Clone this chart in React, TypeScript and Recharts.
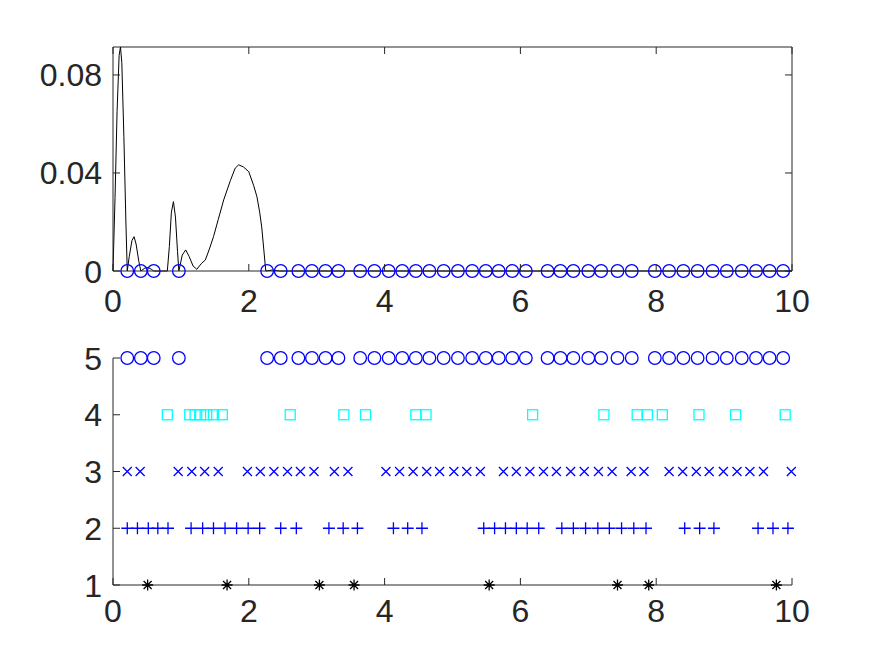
import React from 'react';
import { ComposedChart, ScatterChart, Scatter, Line, XAxis, YAxis, ReferenceLine } from 'recharts';

const xTicks = [0, 2, 4, 6, 8, 10];
const topYTicks = [0, 0.04, 0.08];
const bottomYTicks = [1, 2, 3, 4, 5];
const topYMax = 0.0914;

// black curve of the upper panel
const curveX = [
  0, 0.03, 0.06, 0.09, 0.11, 0.13, 0.16, 0.19, 0.21, 0.24, 0.28, 0.31, 0.34, 0.38, 0.41,
  0.47, 0.52, 0.57, 0.6, 0.8, 0.83, 0.86, 0.89, 0.92, 0.95, 0.97, 1.02, 1.07, 1.12, 1.18,
  1.235, 1.3, 1.36, 1.42, 1.48, 1.55, 1.63, 1.73, 1.8, 1.85, 1.92, 2.0, 2.07, 2.12, 2.16,
  2.19, 2.22, 2.25, 2.35, 2.45, 10,
];
const curveY = [
  0, 0.03, 0.065, 0.088, 0.0914, 0.085, 0.055, 0.02, 0, 0.006, 0.0125, 0.014, 0.011, 0.004, 0,
  0.0012, 0.0014, 0.0006, 0, 0, 0.01, 0.024, 0.0283, 0.022, 0.008, 0, 0.0065, 0.0086, 0.006, 0.002,
  0.0007, 0.003, 0.0045, 0.009, 0.014, 0.021, 0.029, 0.037, 0.042, 0.0433, 0.0425, 0.0405, 0.035, 0.0303, 0.024,
  0.018, 0.009, 0, 0.0004, 0, 0,
];

// event times per row
const circleTimes = [
  0.21, 0.41, 0.6, 0.97, 2.27, 2.47, 2.73, 2.93, 3.13, 3.32, 3.64, 3.85, 4.06, 4.26, 4.46,
  4.66, 4.87, 5.08, 5.29, 5.49, 5.68, 5.88, 6.08, 6.4, 6.59, 6.78, 7.0, 7.19, 7.43, 7.64,
  7.98, 8.19, 8.4, 8.61, 8.83, 9.04, 9.26, 9.47, 9.67, 9.87,
];
const squareTimes = [
  0.8, 1.13, 1.21, 1.29, 1.38, 1.48, 1.61, 2.61, 3.4, 3.72, 4.46, 4.61, 6.18, 7.23, 7.72,
  7.87, 8.09, 8.63, 9.17, 9.9,
];
const xMarkTimes = [
  0.21, 0.4, 0.96, 1.16, 1.35, 1.55, 1.98, 2.17, 2.37, 2.57, 2.76, 2.96, 3.26, 3.46, 4.02,
  4.22, 4.42, 4.62, 4.81, 5.02, 5.21, 5.41, 5.75, 5.94, 6.14, 6.34, 6.53, 6.74, 6.94, 7.15,
  7.35, 7.63, 7.82, 8.19, 8.39, 8.59, 8.78, 8.99, 9.19, 9.38, 9.58, 9.99,
];
const plusTimes = [
  0.21, 0.36, 0.52, 0.66, 0.81, 1.15, 1.32, 1.48, 1.65, 1.82, 1.99, 2.16, 2.47, 2.7, 3.18,
  3.39, 3.6, 4.13, 4.34, 4.55, 5.46, 5.62, 5.78, 5.94, 6.1, 6.27, 6.61, 6.78, 6.96, 7.14,
  7.31, 7.49, 7.67, 7.85, 8.42, 8.64, 8.85, 9.5, 9.72, 9.94,
];
const starTimes = [0.51, 1.68, 3.04, 3.55, 5.54, 7.43, 7.89, 9.77];

const FONT = '"Liberation Sans", Arial, Helvetica, sans-serif';
const INK = '#262626';
const BLUE = '#0000ff';
const CYAN = '#00ffff';
const FS = 32;

const curveData = curveX.map((x, i) => ({ x, y: curveY[i] }));
const rowData = (times: number[], level: number) => times.map((x) => ({ x, y: level }));

function BottomTick({ x, y, payload, offset = 36 }: any) {
  return (
    <g>
      <line x1={x} x2={x} y1={y} y2={y - 7} stroke={INK} strokeWidth={1} />
      <text x={x} y={y + offset} textAnchor="middle" fontSize={FS} fill={INK} fontFamily={FONT}>
        {payload.value}
      </text>
    </g>
  );
}

function LeftTick({ x, y, payload }: any) {
  return (
    <g>
      <line x1={x} x2={x + 7} y1={y} y2={y} stroke={INK} strokeWidth={1} />
      <text x={x - 11} y={y} dy="0.36em" textAnchor="end" fontSize={FS} fill={INK} fontFamily={FONT}>
        {payload.value}
      </text>
    </g>
  );
}

const circleShape = (p: any) => (
  <circle cx={p.cx} cy={p.cy} r={6.3} fill="none" stroke={BLUE} strokeWidth={1.3} />
);
const squareShape = (p: any) => (
  <rect x={p.cx - 5} y={p.cy - 5} width={10} height={10} fill="none" stroke={CYAN} strokeWidth={1.3} />
);
const xShape = (p: any) => (
  <path
    d={`M${p.cx - 4.5},${p.cy - 4.5}L${p.cx + 4.5},${p.cy + 4.5}M${p.cx - 4.5},${p.cy + 4.5}L${p.cx + 4.5},${p.cy - 4.5}`}
    stroke={BLUE}
    strokeWidth={1.3}
    fill="none"
  />
);
const plusShape = (p: any) => (
  <path
    d={`M${p.cx - 6},${p.cy}L${p.cx + 6},${p.cy}M${p.cx},${p.cy - 6}L${p.cx},${p.cy + 6}`}
    stroke={BLUE}
    strokeWidth={1.3}
    fill="none"
  />
);
const starShape = (p: any) => (
  <path
    d={`M${p.cx - 5.5},${p.cy}L${p.cx + 5.5},${p.cy}M${p.cx},${p.cy - 5.5}L${p.cx},${p.cy + 5.5}M${p.cx - 4},${p.cy - 4}L${p.cx + 4},${p.cy + 4}M${p.cx - 4},${p.cy + 4}L${p.cx + 4},${p.cy - 4}`}
    stroke="#000"
    strokeWidth={1.3}
    fill="none"
  />
);

export default function App() {
  return (
    <div style={{ position: 'absolute', left: 0, top: 0, width: 875, height: 657, background: '#fff' }}>
      <div style={{ position: 'absolute', left: 0, top: 0 }}>
        <ComposedChart width={875} height={330} margin={{ top: 47, right: 83, bottom: 0, left: 0 }}>
          <XAxis
            dataKey="x"
            type="number"
            domain={[0, 10]}
            ticks={xTicks}
            height={59}
            tickSize={0}
            tickMargin={0}
            tickLine={false}
            axisLine={{ stroke: INK }}
            tick={<BottomTick offset={41} />}
            interval={0}
          />
          <YAxis
            dataKey="y"
            type="number"
            domain={[0, topYMax]}
            ticks={topYTicks}
            width={113}
            tickSize={0}
            tickMargin={0}
            tickLine={false}
            axisLine={{ stroke: INK }}
            tick={<LeftTick />}
            interval={0}
          />
          {/* box: top and right edges with inward ticks */}
          <ReferenceLine y={topYMax} stroke={INK} strokeWidth={1} />
          <ReferenceLine x={10} stroke={INK} strokeWidth={1} />
          {xTicks.map((t) => (
            <ReferenceLine
              key={`tx${t}`}
              segment={[{ x: t, y: topYMax }, { x: t, y: topYMax * (1 - 7 / 224) }]}
              stroke={INK}
              strokeWidth={1}
            />
          ))}
          {topYTicks.map((t) => (
            <ReferenceLine
              key={`ty${t}`}
              segment={[{ x: 10, y: t }, { x: 10 - 7 / 67.9, y: t }]}
              stroke={INK}
              strokeWidth={1}
            />
          ))}
          <Line
            data={curveData}
            dataKey="y"
            type="linear"
            stroke="#000"
            strokeWidth={1}
            dot={false}
            isAnimationActive={false}
          />
          <Scatter data={rowData(circleTimes, 0)} dataKey="y" shape={circleShape} isAnimationActive={false} />
        </ComposedChart>
      </div>
      <div style={{ position: 'absolute', left: 0, top: 330 }}>
        <ScatterChart width={875} height={327} margin={{ top: 28, right: 83, bottom: 0, left: 0 }}>
          <XAxis
            dataKey="x"
            type="number"
            domain={[0, 10]}
            ticks={xTicks}
            height={72}
            tickSize={0}
            tickMargin={0}
            tickLine={false}
            axisLine={{ stroke: INK }}
            tick={<BottomTick offset={37} />}
            interval={0}
          />
          <YAxis
            dataKey="y"
            type="number"
            domain={[1, 5]}
            ticks={bottomYTicks}
            width={113}
            tickSize={0}
            tickMargin={0}
            tickLine={false}
            axisLine={{ stroke: INK }}
            tick={<LeftTick />}
            interval={0}
          />
          <Scatter data={rowData(circleTimes, 5)} shape={circleShape} isAnimationActive={false} />
          <Scatter data={rowData(squareTimes, 4)} shape={squareShape} isAnimationActive={false} />
          <Scatter data={rowData(xMarkTimes, 3)} shape={xShape} isAnimationActive={false} />
          <Scatter data={rowData(plusTimes, 2)} shape={plusShape} isAnimationActive={false} />
          <Scatter data={rowData(starTimes, 1)} shape={starShape} isAnimationActive={false} />
        </ScatterChart>
      </div>
    </div>
  );
}
